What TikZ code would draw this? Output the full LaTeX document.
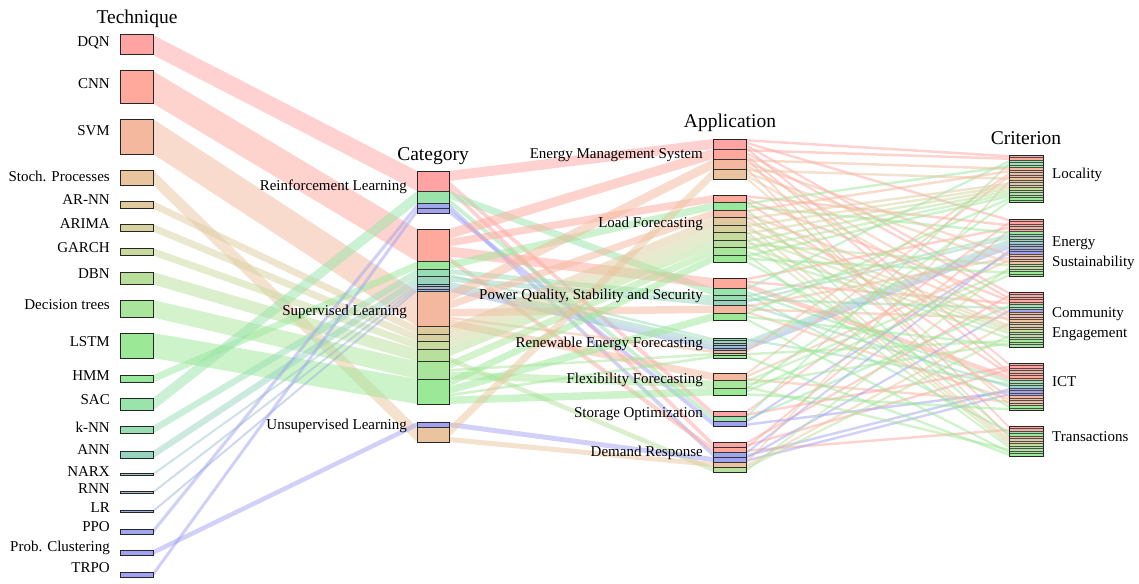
\documentclass[tikz,border=0pt]{standalone}
\usepackage{fontspec}
\setmainfont{Liberation Serif}
\newcount\cntL \newcount\cntE \newcount\cntC \newcount\cntI \newcount\cntT
\def\ctopL{155}\def\ctopE{219}\def\ctopC{292}\def\ctopI{363}\def\ctopT{426}
\definecolor{cDQN}{HTML}{FFA3A3}
\definecolor{cCNN}{HTML}{FFA89C}
\definecolor{cSVM}{HTML}{F4B89E}
\definecolor{cSto}{HTML}{E9C49E}
\definecolor{cARNN}{HTML}{DFCA9E}
\definecolor{cARIMA}{HTML}{D6D19E}
\definecolor{cGARCH}{HTML}{C9DA9E}
\definecolor{cDBN}{HTML}{B8E09C}
\definecolor{cDT}{HTML}{A9E59A}
\definecolor{cLSTM}{HTML}{9BE896}
\definecolor{cHMM}{HTML}{98E89C}
\definecolor{cSAC}{HTML}{98E4AA}
\definecolor{cKNN}{HTML}{98DDB4}
\definecolor{cANN}{HTML}{98D3BE}
\definecolor{cNARX}{HTML}{9CC8CA}
\definecolor{cRNN}{HTML}{9CBBD6}
\definecolor{cLR}{HTML}{9CAEE2}
\definecolor{cPPO}{HTML}{9FA6EC}
\definecolor{cPC}{HTML}{A2A2F2}
\definecolor{cTRPO}{HTML}{A0A0F4}
\tikzset{
  band/.style={fill opacity=0.5},
  segbox/.style={draw=black!80, line width=0.5pt},
  outbox/.style={draw=black!85, line width=1pt},
  lab/.style={font=\fontsize{15}{17}\selectfont, inner sep=0pt},
  ttl/.style={font=\fontsize{19.5}{22}\selectfont, inner sep=0pt}
}
\newcommand\lflow[4]{\fill[band,#4] (153,#1) -- (417,#2) -- (417,#2+#3) -- (153,#1+#3) -- cycle;}
\newcommand\mflow[4]{\fill[band,#4] (449,#1) -- (713,#2) -- (713,#2+#3) -- (449,#1+#3) -- cycle;}
\newcommand\rflow[3]{%
  \pgfmathsetmacro\ry{\csname ctop#2\endcsname+2.5*\expandafter\the\csname cnt#2\endcsname}%
  \fill[band,#3] (746,#1) -- (1009,\ry) -- (1009,\ry+2.5) -- (746,#1+2.5) -- cycle;
  \filldraw[fill=#3,draw=black!70,line width=0.3pt] (1009,\ry) rectangle (1043,\ry+2.5);
  \global\advance\csname cnt#2\endcsname by 1\relax}
\begin{document}
\begin{tikzpicture}[x=1pt,y=-1pt]
\useasboundingbox (0,0) rectangle (1139,583);
% ---- Technique -> Category
\lflow{35}{171}{20}{cDQN}
\lflow{71}{229}{32.5}{cCNN}
\lflow{119}{291.5}{35}{cSVM}
\lflow{170}{427}{15}{cSto}
\lflow{201}{326.5}{7.5}{cARNN}
\lflow{224}{334}{7.5}{cARIMA}
\lflow{248}{341.5}{7.5}{cGARCH}
\lflow{272}{349}{12.5}{cDBN}
\lflow{300}{361.5}{17.5}{cDT}
\lflow{333}{379}{25}{cLSTM}
\lflow{375}{261.5}{7.5}{cHMM}
\lflow{398}{191}{12.5}{cSAC}
\lflow{426}{269}{7.5}{cKNN}
\lflow{451}{276.5}{7.5}{cANN}
\lflow{473}{284}{2.5}{cNARX}
\lflow{491}{286.5}{2.5}{cRNN}
\lflow{510}{289}{2.5}{cLR}
\lflow{529}{203.5}{5}{cPPO}
\lflow{550}{422}{5}{cPC}
\lflow{572}{208.5}{5}{cTRPO}
% ---- Category -> Application
\mflow{171}{139}{10}{cDQN}
\mflow{181}{411}{5}{cDQN}
\mflow{186}{442}{5}{cDQN}
\mflow{191}{288}{7.5}{cSAC}
\mflow{198.5}{416}{5}{cSAC}
\mflow{203.5}{452}{5}{cPPO}
\mflow{208.5}{421}{5}{cTRPO}
\mflow{229}{149}{10}{cCNN}
\mflow{239}{195}{7.5}{cCNN}
\mflow{246.5}{278}{10}{cCNN}
\mflow{256.5}{447}{5}{cCNN}
\mflow{261.5}{202.5}{7.5}{cHMM}
\mflow{269}{295.5}{5}{cKNN}
\mflow{274}{338}{2.5}{cKNN}
\mflow{276.5}{300.5}{5}{cANN}
\mflow{281.5}{340.5}{2.5}{cANN}
\mflow{284}{343}{2.5}{cNARX}
\mflow{286.5}{345.5}{2.5}{cRNN}
\mflow{289}{348}{2.5}{cLR}
\mflow{291.5}{159}{10}{cSVM}
\mflow{301.5}{210}{7.5}{cSVM}
\mflow{309}{305.5}{7.5}{cSVM}
\mflow{316.5}{350.5}{2.5}{cSVM}
\mflow{319}{373}{7.5}{cSVM}
\mflow{326.5}{217.5}{7.5}{cARNN}
\mflow{334}{225}{7.5}{cARIMA}
\mflow{341.5}{232.5}{7.5}{cGARCH}
\mflow{349}{240}{7.5}{cDBN}
\mflow{356.5}{467}{5}{cDBN}
\mflow{361.5}{247.5}{7.5}{cDT}
\mflow{369}{353}{2.5}{cDT}
\mflow{371.5}{380.5}{7.5}{cDT}
\mflow{379}{255}{7.5}{cLSTM}
\mflow{386.5}{313}{7.5}{cLSTM}
\mflow{394}{355.5}{2.5}{cLSTM}
\mflow{396.5}{388}{7.5}{cLSTM}
\mflow{422}{457}{5}{cPC}
\mflow{427}{169}{10}{cSto}
\mflow{437}{462}{5}{cSto}
% ---- Application -> Criterion
% DQN
\rflow{139}{L}{cDQN}\rflow{141.5}{E}{cDQN}\rflow{144}{C}{cDQN}\rflow{146.5}{I}{cDQN}
\rflow{411}{E}{cDQN}\rflow{413.5}{I}{cDQN}
\rflow{442}{C}{cDQN}\rflow{444.5}{I}{cDQN}
% CNN
\rflow{149}{L}{cCNN}\rflow{151.5}{C}{cCNN}\rflow{154}{I}{cCNN}\rflow{156.5}{T}{cCNN}
\rflow{195}{E}{cCNN}\rflow{197.5}{C}{cCNN}\rflow{200}{I}{cCNN}
\rflow{278}{E}{cCNN}\rflow{280.5}{C}{cCNN}\rflow{283}{I}{cCNN}\rflow{285.5}{I}{cCNN}
\rflow{447}{E}{cCNN}\rflow{449.5}{T}{cCNN}
% SAC
\rflow{288}{L}{cSAC}\rflow{290.5}{I}{cSAC}\rflow{293}{T}{cSAC}
\rflow{416}{L}{cSAC}\rflow{418.5}{C}{cSAC}
% HMM
\rflow{202.5}{L}{cHMM}\rflow{205}{E}{cHMM}\rflow{207.5}{T}{cHMM}
% kNN, ANN, NARX, RNN, LR
\rflow{295.5}{E}{cKNN}\rflow{298}{C}{cKNN}\rflow{338}{I}{cKNN}
\rflow{300.5}{E}{cANN}\rflow{303}{I}{cANN}\rflow{340.5}{E}{cANN}
\rflow{343}{E}{cNARX}
\rflow{345.5}{E}{cRNN}
\rflow{348}{E}{cLR}
% PPO, TRPO, PC
\rflow{452}{E}{cPPO}\rflow{454.5}{I}{cPPO}
\rflow{421}{E}{cTRPO}\rflow{423.5}{I}{cTRPO}
\rflow{457}{C}{cPC}\rflow{459.5}{I}{cPC}
% SVM
\rflow{159}{L}{cSVM}\rflow{161.5}{E}{cSVM}\rflow{164}{C}{cSVM}\rflow{166.5}{T}{cSVM}
\rflow{210}{L}{cSVM}\rflow{212.5}{C}{cSVM}\rflow{215}{I}{cSVM}
\rflow{305.5}{E}{cSVM}\rflow{308}{C}{cSVM}\rflow{310.5}{I}{cSVM}
\rflow{350.5}{L}{cSVM}
\rflow{373}{L}{cSVM}\rflow{375.5}{E}{cSVM}\rflow{378}{I}{cSVM}
% Stoch
\rflow{169}{L}{cSto}\rflow{171.5}{E}{cSto}\rflow{174}{C}{cSto}\rflow{176.5}{I}{cSto}
\rflow{462}{L}{cSto}\rflow{464.5}{C}{cSto}
% AR-NN, ARIMA, GARCH
\rflow{217.5}{L}{cARNN}\rflow{220}{C}{cARNN}\rflow{222.5}{T}{cARNN}
\rflow{225}{L}{cARIMA}\rflow{227.5}{C}{cARIMA}\rflow{230}{T}{cARIMA}
\rflow{232.5}{L}{cGARCH}\rflow{235}{C}{cGARCH}\rflow{237.5}{T}{cGARCH}
% DBN
\rflow{240}{L}{cDBN}\rflow{242.5}{E}{cDBN}\rflow{245}{C}{cDBN}
\rflow{467}{C}{cDBN}\rflow{469.5}{E}{cDBN}
% DT
\rflow{247.5}{L}{cDT}\rflow{250}{C}{cDT}\rflow{252.5}{T}{cDT}
\rflow{353}{C}{cDT}
\rflow{380.5}{E}{cDT}\rflow{383}{C}{cDT}\rflow{385.5}{T}{cDT}
% LSTM
\rflow{255}{L}{cLSTM}\rflow{257.5}{E}{cLSTM}\rflow{260}{I}{cLSTM}
\rflow{313}{L}{cLSTM}\rflow{315.5}{C}{cLSTM}\rflow{318}{T}{cLSTM}
\rflow{355.5}{T}{cLSTM}
\rflow{388}{L}{cLSTM}\rflow{390.5}{E}{cLSTM}\rflow{393}{I}{cLSTM}
% ---- Technique boxes
\foreach \t/\h/\c in {35/20/cDQN,71/32.5/cCNN,119/35/cSVM,170/15/cSto,201/7.5/cARNN,224/7.5/cARIMA,248/7.5/cGARCH,272/12.5/cDBN,300/17.5/cDT,333/25/cLSTM,375/7.5/cHMM,398/12.5/cSAC,426/7.5/cKNN,451/7.5/cANN,473/2.5/cNARX,491/2.5/cRNN,510/2.5/cLR,529/5/cPPO,550/5/cPC,572/5/cTRPO}
  \filldraw[outbox, fill=\c] (120,\t) rectangle (153,\t+\h);
% ---- Category segments
\foreach \t/\h/\c in {171/20/cDQN,191/12.5/cSAC,203.5/5/cPPO,208.5/5/cTRPO,229/32.5/cCNN,261.5/7.5/cHMM,269/7.5/cKNN,276.5/7.5/cANN,284/2.5/cNARX,286.5/2.5/cRNN,289/2.5/cLR,291.5/35/cSVM,326.5/7.5/cARNN,334/7.5/cARIMA,341.5/7.5/cGARCH,349/12.5/cDBN,361.5/17.5/cDT,379/25/cLSTM,422/5/cPC,427/15/cSto}
  \filldraw[segbox, fill=\c] (417,\t) rectangle (449,\t+\h);
\foreach \t/\b in {171/213.5,229/404,422/442}
  \draw[outbox] (417,\t) rectangle (449,\b);
% ---- Application segments
\foreach \t/\h/\c in {139/10/cDQN,149/10/cCNN,159/10/cSVM,169/10/cSto,
  195/7.5/cCNN,202.5/7.5/cHMM,210/7.5/cSVM,217.5/7.5/cARNN,225/7.5/cARIMA,232.5/7.5/cGARCH,240/7.5/cDBN,247.5/7.5/cDT,255/7.5/cLSTM,
  278/10/cCNN,288/7.5/cSAC,295.5/5/cKNN,300.5/5/cANN,305.5/7.5/cSVM,313/7.5/cLSTM,
  338/2.5/cKNN,340.5/2.5/cANN,343/2.5/cNARX,345.5/2.5/cRNN,348/2.5/cLR,350.5/2.5/cSVM,353/2.5/cDT,355.5/2.5/cLSTM,
  373/7.5/cSVM,380.5/7.5/cDT,388/7.5/cLSTM,
  411/5/cDQN,416/5/cSAC,421/5/cTRPO,
  442/5/cDQN,447/5/cCNN,452/5/cPPO,457/5/cPC,462/5/cSto,467/5/cDBN}
  \filldraw[segbox, fill=\c] (713,\t) rectangle (746,\t+\h);
\foreach \t/\b in {139/179,195/262.5,278/320.5,338/358,373/395.5,411/426,442/472}
  \draw[outbox] (713,\t) rectangle (746,\b);
% ---- Criterion outlines
\foreach \t/\b in {155/202.5,219/276.5,292/347,363/410.5,426/456}
  \draw[outbox] (1009,\t) rectangle (1043,\b);
% ---- Titles
\node[ttl] (tTech) at (137,19) {Technique};
\node[ttl] (tCat) at (433,156) {Category};
\node[ttl] (tApp) at (730,123) {Application};
\node[ttl] (tCrit) at (1026,138) {Criterion};
% ---- Technique labels
\foreach \n/\y/\s in {lDQN/43/DQN,lCNN/84/CNN,lSVM/131/SVM,lSto/176/Stoch. Processes,lARNN/200/AR-NN,lARIMA/224/ARIMA,lGARCH/248/GARCH,lDBN/274/DBN,lDT/305/Decision trees,lLSTM/342/LSTM,lHMM/376/HMM,lSAC/400/SAC,lKNN/427/k-NN,lANN/450/ANN,lNARX/472/NARX,lRNN/489/RNN,lLR/508/LR,lPPO/527/PPO,lPC/548/Prob. Clustering,lTRPO/568/TRPO}
  \node[lab, anchor=east] (\n) at (110,\y) {\s};
% ---- Category labels
\node[lab, anchor=east] (lRL) at (407,187) {Reinforcement Learning};
\node[lab, anchor=east] (lSL) at (407,312) {Supervised Learning};
\node[lab, anchor=east] (lUL) at (407,426) {Unsupervised Learning};
% ---- Application labels
\node[lab, anchor=east] (lEMS) at (703,155) {Energy Management System};
\node[lab, anchor=east] (lLF) at (703,224) {Load Forecasting};
\node[lab, anchor=east] (lPQ) at (703,296) {Power Quality, Stability and Security};
\node[lab, anchor=east] (lREF) at (703,344) {Renewable Energy Forecasting};
\node[lab, anchor=east] (lFF) at (703,380) {Flexibility Forecasting};
\node[lab, anchor=east] (lSO) at (703,414) {Storage Optimization};
\node[lab, anchor=east] (lDR) at (703,453) {Demand Response};
% ---- Criterion labels
\node[lab, anchor=west] (lLoc) at (1052,175) {Locality};
\node[lab, anchor=west, align=left, font=\fontsize{15}{20}\selectfont] (lES) at (1052,253) {Energy\\Sustainability};
\node[lab, anchor=west, align=left, font=\fontsize{15}{20}\selectfont] (lCE) at (1052,324.5) {Community\\Engagement};
\node[lab, anchor=west] (lICT) at (1052,382) {ICT};
\node[lab, anchor=west] (lTr) at (1052,437) {Transactions};
\end{tikzpicture}
\end{document}
